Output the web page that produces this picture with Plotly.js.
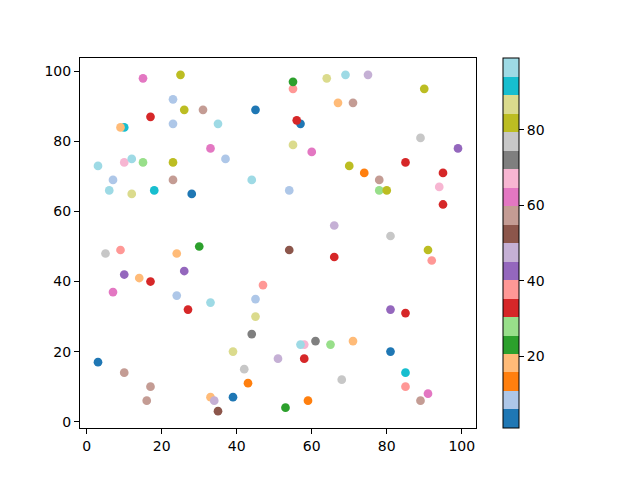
<!DOCTYPE html>
<html>
<head>
<meta charset="utf-8">
<script src="https://cdn.plot.ly/plotly-3.0.1.min.js"></script>
<style>html,body{margin:0;padding:0;background:#fff;}#chart{width:640px;height:480px;}</style>
</head>
<body>
<div id="chart"></div>
<script>
// Data
const xs = [15,25,23,26,31,45,17,23,35,10,9,33,37,3,10,12,15,23,7,23,44,6,12,18,28,
  55,55,64,69,75,90,67,71,57,56,89,99,55,60,70,74,85,95,78,78,80,94,95,54,66,81,
  5,9,24,30,10,14,17,26,7,24,27,33,47,45,45,44,39,51,3,10,42,17,43,16,33,34,39,35,
  54,66,91,92,81,85,58,57,61,65,71,58,81,85,68,85,91,89,59,53];
const ys = [98,99,92,89,89,89,87,85,85,84,84,78,75,73,74,75,74,74,69,69,69,66,65,66,65,
  95,97,98,99,99,95,91,91,85,86,81,78,79,77,73,71,74,71,69,66,66,67,62,66,56,53,
  48,49,48,50,42,41,40,43,37,36,32,34,39,35,30,25,20,18,17,14,15,10,11,6,7,6,7,3,
  49,47,49,46,32,31,22,22,23,22,23,18,20,14,12,10,8,6,6,4];
const cs = [62,82,8,82,57,3,33,8,97,92,18,62,8,97,67,97,28,82,8,57,97,97,87,92,3,
  38,23,87,97,48,82,18,57,3,33,77,43,87,62,82,13,33,33,57,28,82,67,33,8,48,77,
  77,38,18,23,43,18,33,43,62,8,33,97,38,8,87,72,87,48,3,57,77,57,13,57,18,48,3,52,
  52,33,82,38,43,33,67,97,72,28,18,33,3,92,77,38,62,57,13,23];
const cbTicks = [20,40,60,80];
const cmapColors = ['#1f77b4','#aec7e8','#ff7f0e','#ffbb78','#2ca02c','#98df8a','#d62728','#ff9896',
  '#9467bd','#c5b0d5','#8c564b','#c49c94','#e377c2','#f7b6d2','#7f7f7f','#c7c7c7',
  '#bcbd22','#dbdb8d','#17becf','#9edae5'];

const scale = [];
cmapColors.forEach((c,k)=>{ scale.push([k/20,c]); scale.push([(k+1)/20,c]); });

const font = {family:'DejaVu Sans, sans-serif', size:14, color:'#000'};
const trace = {
  type:'scatter', mode:'markers', x:xs, y:ys,
  marker:{
    size:8.7, color:cs, colorscale:scale, cmin:1, cmax:99, line:{width:0},
    showscale:true,
    colorbar:{
      x:(503-80)/396, xanchor:'left', xref:'paper', y:0.5, yanchor:'middle',
      len:1, lenmode:'fraction', thickness:16, thicknessmode:'pixels',
      outlinewidth:1, outlinecolor:'#000',
      tickvals:cbTicks, ticktext:cbTicks.map(String), ticks:'outside', ticklen:5, tickwidth:1,
      tickcolor:'#000', tickfont:font, xpad:0, ypad:0
    }
  },
  hoverinfo:'none'
};
const axisCommon = {
  showgrid:false, zeroline:false, showline:true, linecolor:'#000', linewidth:1, mirror:true,
  ticks:'outside', ticklen:5, tickwidth:1, tickcolor:'#000', tickfont:font
};
const layout = {
  width:640, height:480, paper_bgcolor:'#fff', plot_bgcolor:'#fff', showlegend:false,
  margin:{l:80, r:164, t:58, b:52, pad:0},
  font:font,
  xaxis:Object.assign({range:[-1.8,103.8], tickvals:[0,20,40,60,80,100]}, axisCommon),
  yaxis:Object.assign({range:[-1.8,103.8], tickvals:[0,20,40,60,80,100]}, axisCommon)
};
Plotly.newPlot('chart',[trace],layout,{staticPlot:true});
</script>
</body>
</html>
